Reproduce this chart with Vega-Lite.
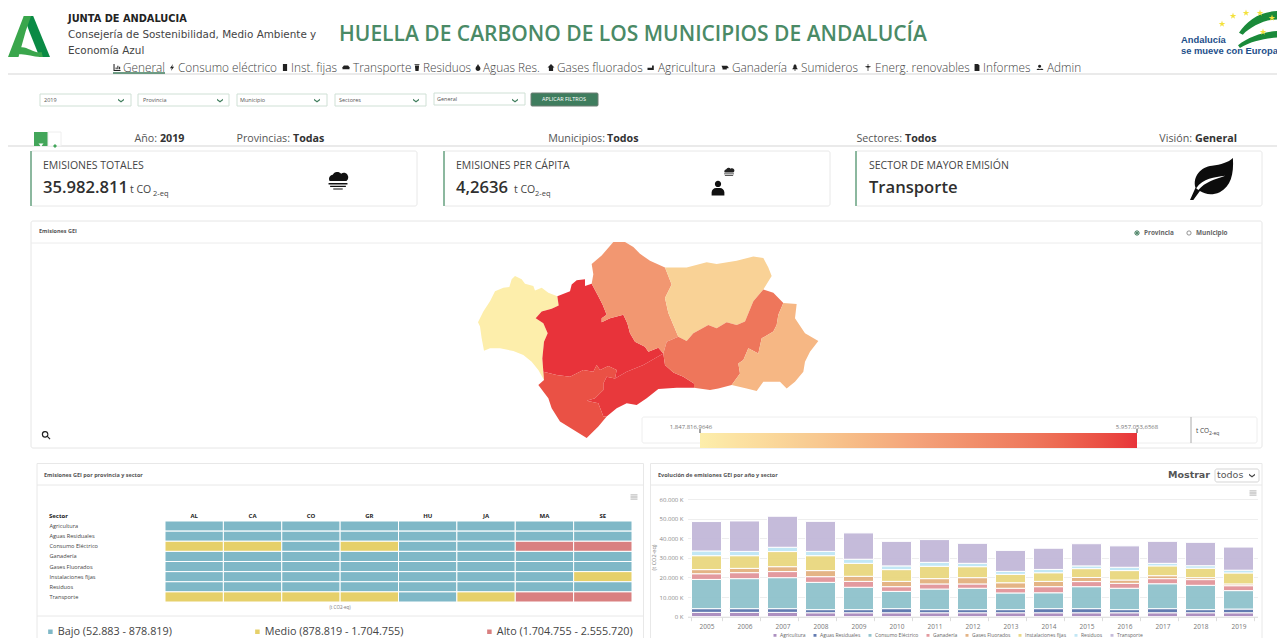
{
"$schema":"https://vega.github.io/schema/vega-lite/v6.json",
"padding":0,
"background":"white",
"bounds":"flush",
"spacing":0,
"resolve":{"scale":{"color":"independent","shape":"independent"},"legend":{"color":"independent"}},
"config":{"view":{"stroke":null},"font":"Open Sans","locale":{"number":{"decimal":",","thousands":".","grouping":[3],"currency":["","€"]}}},
"vconcat":[
{"width":1277,"height":221,
"encoding":{
"x":{"field":"col","type":"quantitative","axis":null,"scale":{"nice":false,"zero":false,"domain":[1,2,3,4,5,6,7,8,9,10,11,12,13,14,15,16,17,18,19,20,21,22,23,24,25,26,27,28,29,30,31,32,33,34,35,36,37,38,39,40,41,42,43,44,45,46,47,48,49,50,51,52,53,54,55,56,57,58,59,60,61,62,63,64,65,66,67,68,69,70,71,72,73,74,75,76,77,78,79,80,81,82,83,84,85,86,87,88,89,90,91,92,93,94,95,96],"range":[8,1277,68,339,123,178,291,353,423,483,557,658,732,801,875,983,1047,117,172,285,346,417,478,551,651,725,795,868,977,1040,113,165,40,131,138,229,237,327,335,426,434,525,531,598,44,143,240,339,437,564,121,220,317,416,515,157,160,290,293,605,607,902,905,1192,1195,34,48,61,31,417,444,830,856,1262,43,456,869,130,153,514,535,338,718,729,1212,29,1181,1258,41,55,1222,1233,1246,1260,1272,1263]}},
"y":{"field":"fil","type":"quantitative","axis":null,"scale":{"nice":false,"zero":false,"domain":[1,2,3,4,5,6,7,8,9,10,11,12,13,14,15,16,17,18,19,20,21,22,23,24,25,26,27,28,29,30,31,32,33,34,35],"range":[74,19,35,51,34.5,67.5,73,94,106,93,105,100,99,139,146,132,139,151,206,166,188,190,180,188,172,179,40,51,37,29,24,16,13,18,32]}}
},
"layer":[
{"data":{"values":[{"col":1,"col2":2,"fil":1},{"col":1,"col2":2,"fil":15}]},"mark":{"type":"rule","color":"#e3e3e3","strokeWidth":1.5},"encoding":{"x2":{"field":"col2"}}},
{"data":{"values":[{"col":31,"col2":32,"fil":7}]},"mark":{"type":"rule","color":"#3f7d5c","strokeWidth":1.5},"encoding":{"x2":{"field":"col2"}}},
{"data":{"values":[{"col":86,"fil":29}]},"mark":{"type":"point","filled":true,"opacity":1,"color":"#0a8a45","size":1764,"shape":"M-.25 -1H.2L1 .95H.5L0 -.3Z"}},
{"data":{"values":[{"col":86,"fil":29}]},"mark":{"type":"point","filled":true,"opacity":1,"color":"#3aa64c","size":1764,"shape":"M-1 .95L-.25 -1H.1L-.15 -.3L-.5 .95Z M-.45 .5C-.1 .4 .2 .8 .6 .72L.66 .95C.2 1 -.2 .75 -.55 .85Z"}},
{"data":{"values":[{"col":3,"fil":2,"texto":"JUNTA DE ANDALUCIA"}]},"mark":{"type":"text","font":"DejaVu Sans","fontWeight":"bold","fontSize":9.8,"align":"left","baseline":"middle","color":"#222"},"encoding":{"text":{"field":"texto"}}},
{"data":{"values":[{"col":3,"fil":3,"texto":"Consejería de Sostenibilidad, Medio Ambiente y"},{"col":3,"fil":4,"texto":"Economía Azul"}]},"mark":{"type":"text","font":"DejaVu Sans","fontSize":10.4,"align":"left","baseline":"middle","color":"#444"},"encoding":{"text":{"field":"texto"}}},
{"data":{"values":[{"col":4,"fil":5,"texto":"HUELLA DE CARBONO DE LOS MUNICIPIOS DE ANDALUCÍA"}]},"mark":{"type":"text","fontWeight":600,"fontSize":21,"align":"left","baseline":"middle","color":"#4a8a66"},"encoding":{"text":{"field":"texto"}}},
{"data":{"values":[{"col":5,"fil":6,"texto":"General"},{"col":6,"fil":6,"texto":"Consumo eléctrico"},{"col":7,"fil":6,"texto":"Inst. fijas"},{"col":8,"fil":6,"texto":"Transporte"},{"col":9,"fil":6,"texto":"Residuos"},{"col":10,"fil":6,"texto":"Aguas Res."},{"col":11,"fil":6,"texto":"Gases fluorados"},{"col":12,"fil":6,"texto":"Agricultura"},{"col":13,"fil":6,"texto":"Ganadería"},{"col":14,"fil":6,"texto":"Sumideros"},{"col":15,"fil":6,"texto":"Energ. renovables"},{"col":16,"fil":6,"texto":"Informes"},{"col":17,"fil":6,"texto":"Admin"}]},"mark":{"type":"text","fontSize":11.8,"fontWeight":300,"align":"left","baseline":"middle","color":"#444"},"encoding":{"text":{"field":"texto"}}},
{"data":{"values":[{"col":18,"fil":6,"icono":"grafico"},{"col":19,"fil":6,"icono":"rayo"},{"col":20,"fil":6,"icono":"edificio"},{"col":21,"fil":6,"icono":"coche"},{"col":22,"fil":6,"icono":"papelera"},{"col":23,"fil":6,"icono":"gota"},{"col":24,"fil":6,"icono":"casa"},{"col":25,"fil":6,"icono":"tractor"},{"col":26,"fil":6,"icono":"vaca"},{"col":27,"fil":6,"icono":"arbol"},{"col":28,"fil":6,"icono":"molino"},{"col":29,"fil":6,"icono":"documento"},{"col":30,"fil":6,"icono":"usuarios"}]},"mark":{"type":"point","filled":true,"opacity":1,"color":"#222","size":49},"encoding":{"shape":{"field":"icono","type":"nominal","legend":null,"scale":{"domain":["grafico","rayo","edificio","coche","papelera","gota","casa","tractor","vaca","arbol","molino","documento","usuarios"],"range":["M-1 -1V1H1V.7H-.7V-1Z M-.4 .5V0H-.1V.5Z M.1 .5V-.5H.4V.5Z M.6 .5V-.2H.9V.5Z","M.3 -1L-.6 .2H-.05L-.3 1L.6 -.2H.05Z","M-.6 -1H.6V1H-.6Z","M-1 .5V-.1L-.6 -.6H.6L1 -.1V.5Z","M-.6 -.6H.6L.45 1H-.45Z M-.7 -.9H.7V-.7H-.7Z","M0 -1C.3 -.4 .7 -.1 .7 .3A.7 .7 0 0 1 -.7 .3C-.7 -.1 -.3 -.4 0 -1Z","M0 -1L1 0H.6V1H-.6V0H-1Z","M-1 .1H.3V-.6H.8V.7H-1Z","M-1 -.5H.6L1 -.1V.2H.5V.6H-.7V.2Z","M0 -1L.6 -.3H.3L.8 .5H.1V1H-.1V.5H-.8L-.3 -.3H-.6Z","M-.1 -1H.1V1H-.1Z M-.9 -.2L0 -.5L.9 -.2L0 .1Z","M-.7 -1H.3L.7 -.6V1H-.7Z","M-1 .7A.6 .6 0 0 1 .1 .7Z M-.1 .7A.6 .6 0 0 1 1 .7Z M-.1 -.8A.45 .45 0 1 1 -.11 -.8Z"]}}}},
{"data":{"values":[{"col":33,"col2":34,"fil":8,"fil2":9},{"col":35,"col2":36,"fil":8,"fil2":9},{"col":37,"col2":38,"fil":8,"fil2":9},{"col":39,"col2":40,"fil":8,"fil2":9},{"col":41,"col2":42,"fil":10,"fil2":11}]},"mark":{"type":"rect","fill":"white","stroke":"#cfe0d5","strokeWidth":1},"encoding":{"x2":{"field":"col2"},"y2":{"field":"fil2"}}},
{"data":{"values":[{"col":43,"col2":44,"fil":10,"fil2":9}]},"mark":{"type":"rect","fill":"#3f7d5e","stroke":"#6f7f75","strokeWidth":1,"cornerRadius":1},"encoding":{"x2":{"field":"col2"},"y2":{"field":"fil2"}}},
{"data":{"values":[{"col":45,"fil":12,"texto":"2019"},{"col":46,"fil":12,"texto":"Provincia"},{"col":47,"fil":12,"texto":"Municipio"},{"col":48,"fil":12,"texto":"Sectores"},{"col":49,"fil":13,"texto":"General"}]},"mark":{"type":"text","fontSize":5.5,"align":"left","baseline":"middle","color":"#555"},"encoding":{"text":{"field":"texto"}}},
{"data":{"values":[{"col":50,"fil":13,"texto":"APLICAR FILTROS"}]},"mark":{"type":"text","fontSize":5.5,"align":"center","baseline":"middle","color":"white"},"encoding":{"text":{"field":"texto"}}},
{"data":{"values":[{"col":51,"fil":12},{"col":52,"fil":12},{"col":53,"fil":12},{"col":54,"fil":12},{"col":55,"fil":12}]},"mark":{"type":"point","filled":true,"opacity":1,"color":"#3f7d5c","size":36,"shape":"M-1 -.4L0 .3L1 -.4V.1L0 .8L-1 .1Z"}},
{"data":{"values":[{"col":66,"col2":67,"fil":16,"fil2":15}]},"mark":{"type":"rect","fill":"#43a65a"},"encoding":{"x2":{"field":"col2"},"y2":{"field":"fil2"}}},
{"data":{"values":[{"col":67,"col2":68,"fil":16,"fil2":15}]},"mark":{"type":"rect","fill":"white","stroke":"#eeeeee"},"encoding":{"x2":{"field":"col2"},"y2":{"field":"fil2"}}},
{"data":{"values":[{"col":89,"fil":15}]},"mark":{"type":"point","filled":true,"opacity":1,"color":"white","size":25,"shape":"M-1 -1H1L.2 0V1L-.2 .6V0Z"}},
{"data":{"values":[{"col":90,"fil":15}]},"mark":{"type":"point","filled":true,"opacity":1,"color":"#43a65a","size":16,"shape":"M-1 0L0 -1L1 0L0 1Z"}},
{"data":{"values":[{"col":56,"fil":14,"texto":"Año:"},{"col":58,"fil":14,"texto":"Provincias:"},{"col":60,"fil":14,"texto":"Municipios:"},{"col":62,"fil":14,"texto":"Sectores:"},{"col":64,"fil":14,"texto":"Visión:"}]},"mark":{"type":"text","fontSize":10.7,"align":"right","baseline":"middle","color":"#555"},"encoding":{"text":{"field":"texto"}}},
{"data":{"values":[{"col":57,"fil":14,"texto":"2019"},{"col":59,"fil":14,"texto":"Todas"},{"col":61,"fil":14,"texto":"Todos"},{"col":63,"fil":14,"texto":"Todos"},{"col":65,"fil":14,"texto":"General"}]},"mark":{"type":"text","fontSize":10.7,"fontWeight":"bold","align":"left","baseline":"middle","color":"#333"},"encoding":{"text":{"field":"texto"}}},
{"data":{"values":[{"col":69,"col2":70,"fil":18,"fil2":19},{"col":71,"col2":72,"fil":18,"fil2":19},{"col":73,"col2":74,"fil":18,"fil2":19}]},"mark":{"type":"rect","fill":"white","stroke":"#e8e8e8","cornerRadius":2},"encoding":{"x2":{"field":"col2"},"y2":{"field":"fil2"}}},
{"data":{"values":[{"col":69,"fil":18,"fil2":19},{"col":71,"fil":18,"fil2":19},{"col":73,"fil":18,"fil2":19}]},"mark":{"type":"rule","color":"#6aa583","strokeWidth":1.5},"encoding":{"y2":{"field":"fil2"}}},
{"data":{"values":[{"col":75,"fil":20,"texto":"EMISIONES TOTALES"},{"col":76,"fil":20,"texto":"EMISIONES PER CÁPITA"},{"col":77,"fil":20,"texto":"SECTOR DE MAYOR EMISIÓN"}]},"mark":{"type":"text","fontSize":10.5,"align":"left","baseline":"middle","color":"#444"},"encoding":{"text":{"field":"texto"}}},
{"data":{"values":[{"col":75,"fil":21,"texto":"35.982.811"},{"col":76,"fil":21,"texto":"4,2636"},{"col":77,"fil":21,"texto":"Transporte"}]},"mark":{"type":"text","fontSize":16.6,"fontWeight":600,"align":"left","baseline":"middle","color":"#2f2f2f"},"encoding":{"text":{"field":"texto"}}},
{"data":{"values":[{"col":78,"fil":21,"texto":"t CO"},{"col":80,"fil":21,"texto":"t CO"}]},"mark":{"type":"text","fontSize":10.5,"align":"left","baseline":"middle","dy":2,"color":"#444"},"encoding":{"text":{"field":"texto"}}},
{"data":{"values":[{"col":79,"fil":22,"texto":"2-eq"},{"col":81,"fil":22,"texto":"2-eq"}]},"mark":{"type":"text","fontSize":7.5,"align":"left","baseline":"top","color":"#444"},"encoding":{"text":{"field":"texto"}}},
{"data":{"values":[{"col":82,"fil":23}]},"mark":{"type":"point","filled":true,"opacity":1,"color":"#111","size":441,"shape":"M-.8 .1A.4 .4 0 0 1 -.5 -.5A.5 .5 0 0 1 .3 -.6A.4 .4 0 0 1 .8 .1Z M-.9 .28H.9V.42H-.9Z M-.75 .55H.75V.66H-.75Z M-.45 .8H.45V.9H-.45Z"}},
{"data":{"values":[{"col":84,"fil":25}]},"mark":{"type":"point","filled":true,"opacity":1,"color":"#222","size":121,"shape":"M-.8 .1A.4 .4 0 0 1 -.5 -.5A.5 .5 0 0 1 .3 -.6A.4 .4 0 0 1 .8 .1Z M-.9 .28H.9V.42H-.9Z M-.75 .55H.75V.66H-.75Z"}},
{"data":{"values":[{"col":83,"fil":24}]},"mark":{"type":"point","filled":true,"opacity":1,"color":"#111","size":225,"shape":"M-.42 -.55A.42 .42 0 1 1 .42 -.55A.42 .42 0 1 1 -.42 -.55Z M-.85 1V.55A.6 .6 0 0 1 -.25 .0H.25A.6 .6 0 0 1 .85 .55V1Z"}},
{"data":{"values":[{"col":85,"fil":26}]},"mark":{"type":"point","filled":true,"opacity":1,"color":"#0c0c0c","size":1936,"shape":"M.95 -.95C1 -.2 .85 .35 .35 .6C0 .75 -.3 .7 -.55 .55L-.85 .95H-1L-.75 .4C-.9 -.1 -.5 -.55 0 -.6C.4 -.65 .75 -.75 .95 -.95Z"}},
{"data":{"values":[{"col":85,"fil":26}]},"mark":{"type":"point","filled":true,"opacity":1,"color":"white","size":1936,"shape":"M-.72 .42C-.4 -.05 .1 -.08 .6 -.15C.1 .03 -.3 .12 -.62 .5Z"}},
{"data":{"values":[{"col":87,"fil":27,"texto":"Andalucía"},{"col":87,"fil":28,"texto":"se mueve con Europa"}]},"mark":{"type":"text","font":"Liberation Sans","fontWeight":"bold","fontSize":9.4,"align":"left","baseline":"middle","color":"#1d4f8a"},"encoding":{"text":{"field":"texto"}}},
{"data":{"values":[{"col":88,"fil":30}]},"mark":{"type":"point","filled":true,"opacity":1,"color":"#1a8a3a","size":1444,"shape":"M-1 .2C-.6 -.4 0 -.9 1 -.95V-.5C.3 -.5 -.4 -.1 -.8 .3Z M-1.05 .85C-.5 .4 .3 .15 1 .1V.45C.4 .5 -.4 .65 -.95 1Z"}},
{"data":{"values":[{"col":91,"fil":31},{"col":92,"fil":32},{"col":93,"fil":33},{"col":94,"fil":33},{"col":95,"fil":34},{"col":96,"fil":35}]},"mark":{"type":"point","filled":true,"opacity":1,"color":"#f3e13c","size":49,"shape":"M0 -1L.22 -.31H.95L.36 .12L.59 .81L0 .38L-.59 .81L-.36 .12L-.95 -.31H-.22Z"}}
]},
{"width":1277,"height":242,
"resolve":{"scale":{"x":"independent","y":"independent"}},
"layer":[
{"encoding":{
"x":{"field":"col","type":"quantitative","axis":null,"scale":{"nice":false,"zero":false,"domain":[1,2,3,4,5,6,7,8,9,10,11,12,13,14,15],"range":[31,1262,39,1137,1144,1189,1196,46,642,1257,1191,1196,1205,700,1137]}},
"y":{"field":"fil","type":"quantitative","axis":null,"scale":{"nice":false,"zero":false,"domain":[1,2,3,4,5,6,7,8,9,10,11,12],"range":[0,227,22,10,12,214,196,222,210,212,208,212]}}},
"layer":[
{"data":{"values":[{"col":1,"col2":2,"fil":1,"fil2":2}]},"mark":{"type":"rect","fill":"white","stroke":"#e6e6e6","cornerRadius":2},"encoding":{"x2":{"field":"col2"},"y2":{"field":"fil2"}}},
{"data":{"values":[{"col":1,"col2":2,"fil":3}]},"mark":{"type":"rule","color":"#ececec"},"encoding":{"x2":{"field":"col2"}}},
{"data":{"values":[{"col":3,"fil":4,"texto":"Emisiones GEI"}]},"mark":{"type":"text","fontSize":5.5,"fontWeight":"bold","align":"left","baseline":"middle","color":"#555"},"encoding":{"text":{"field":"texto"}}},
{"data":{"values":[{"col":5,"fil":5,"texto":"Provincia"},{"col":7,"fil":5,"texto":"Municipio"}]},"mark":{"type":"text","fontSize":6.4,"fontWeight":"bold","align":"left","baseline":"middle","color":"#666"},"encoding":{"text":{"field":"texto"}}},
{"data":{"values":[{"col":4,"fil":5}]},"mark":{"type":"point","filled":false,"opacity":1,"color":"#2f6f4e","size":18,"strokeWidth":1}},
{"data":{"values":[{"col":4,"fil":5}]},"mark":{"type":"point","filled":true,"opacity":1,"color":"#2f6f4e","size":5}},
{"data":{"values":[{"col":6,"fil":5}]},"mark":{"type":"point","filled":false,"opacity":1,"color":"#777","size":18,"strokeWidth":0.8}},
{"data":{"values":[{"col":8,"fil":6}]},"mark":{"type":"point","filled":false,"opacity":1,"color":"#222","size":81,"strokeWidth":1.2,"shape":"M.4 -.2A.6 .6 0 1 1 .399 -.21M.25 .25L.9 .9"}},
{"data":{"values":[{"col":9,"col2":10,"fil":7,"fil2":8}]},"mark":{"type":"rect","fill":"white","stroke":"#eeeeee","cornerRadius":2},"encoding":{"x2":{"field":"col2"},"y2":{"field":"fil2"}}},
{"data":{"values":[{"col":11,"fil":7,"fil2":8}]},"mark":{"type":"rule","color":"#aaaaaa"},"encoding":{"y2":{"field":"fil2"}}},
{"data":{"values":[{"col":14,"fil":11,"fil2":12},{"col":15,"fil":11,"fil2":12}]},"mark":{"type":"rule","color":"#444444"},"encoding":{"y2":{"field":"fil2"}}},
{"data":{"values":[{"col":12,"fil":9,"texto":"t CO"}]},"mark":{"type":"text","fontSize":6.5,"align":"left","baseline":"middle","color":"#444"},"encoding":{"text":{"field":"texto"}}},
{"data":{"values":[{"col":13,"fil":10,"texto":"2-eq"}]},"mark":{"type":"text","fontSize":5,"align":"left","baseline":"middle","dx":4,"color":"#444"},"encoding":{"text":{"field":"texto"}}}
]},
{"data":{"values":[
{"type":"Feature","properties":{"provincia":"Huelva","emisiones":1847816.9646},"geometry":{"type":"Polygon","coordinates":[[[-6.79,38.2],[-6.67,38.152],[-6.61,38.09],[-6.46,38.056],[-6.43,37.994],[-6.31,38.032],[-6.19,37.96],[-6.028,37.912],[-6.004,37.782],[-6.13,37.734],[-6.31,37.696],[-6.418,37.6],[-6.28,37.528],[-6.202,37.384],[-6.268,37.264],[-6.298,37.024],[-6.28,36.832],[-6.268,36.712],[-6.37,36.856],[-6.49,36.976],[-6.64,37.072],[-6.82,37.13],[-7.06,37.168],[-7.24,37.168],[-7.348,37.134],[-7.39,37.312],[-7.42,37.48],[-7.456,37.542],[-7.36,37.696],[-7.24,37.84],[-7.15,37.984],[-7.0,38.032],[-6.892,38.042],[-6.85,38.152],[-6.79,38.2]]]}},
{"type":"Feature","properties":{"provincia":"Sevilla","emisiones":5957053.6568},"geometry":{"type":"Polygon","coordinates":[[[-6.028,37.912],[-5.8,37.984],[-5.77,38.08],[-5.68,38.138],[-5.53,38.152],[-5.53,38.056],[-5.41,38.09],[-5.29,37.912],[-5.212,37.792],[-5.14,37.648],[-5.23,37.6],[-5.23,37.542],[-5.08,37.6],[-4.84,37.648],[-4.768,37.528],[-4.72,37.384],[-4.63,37.264],[-4.45,37.192],[-4.39,37.12],[-4.21,37.178],[-4.12,37.096],[-4.48,36.928],[-4.78,36.832],[-4.99,36.736],[-4.96,36.856],[-5.11,36.914],[-5.26,36.856],[-5.32,36.928],[-5.38,36.832],[-5.56,36.856],[-5.8,36.76],[-6.04,36.784],[-6.28,36.832],[-6.298,37.024],[-6.268,37.264],[-6.202,37.384],[-6.28,37.528],[-6.418,37.6],[-6.31,37.696],[-6.13,37.734],[-6.004,37.782],[-6.028,37.912]]]}},
{"type":"Feature","properties":{"provincia":"Málaga","emisiones":5900000},"geometry":{"type":"Polygon","coordinates":[[[-4.99,36.736],[-4.78,36.832],[-4.48,36.928],[-4.12,37.096],[-4.09,36.928],[-3.94,36.822],[-3.76,36.76],[-3.568,36.664],[-3.568,36.602],[-3.88,36.602],[-4.21,36.582],[-4.42,36.448],[-4.6,36.352],[-4.78,36.376],[-4.96,36.304],[-5.14,36.184],[-5.2,36.184],[-5.29,36.376],[-5.5,36.414],[-5.35,36.448],[-5.2,36.568],[-5.2,36.664],[-5.14,36.76],[-4.99,36.736]]]}},
{"type":"Feature","properties":{"provincia":"Cádiz","emisiones":5600000},"geometry":{"type":"Polygon","coordinates":[[[-6.28,36.832],[-6.04,36.784],[-5.8,36.76],[-5.56,36.856],[-5.38,36.832],[-5.32,36.928],[-5.26,36.856],[-5.11,36.914],[-4.96,36.856],[-4.99,36.736],[-5.14,36.76],[-5.2,36.664],[-5.2,36.568],[-5.35,36.448],[-5.5,36.414],[-5.29,36.376],[-5.2,36.184],[-5.14,36.184],[-5.29,36.04],[-5.5,35.872],[-5.74,35.992],[-5.98,36.112],[-6.13,36.304],[-6.19,36.448],[-6.37,36.64],[-6.268,36.712],[-6.28,36.832]]]}},
{"type":"Feature","properties":{"provincia":"Córdoba","emisiones":4200000},"geometry":{"type":"Polygon","coordinates":[[[-5.41,38.09],[-5.38,38.224],[-5.41,38.368],[-5.23,38.488],[-5.02,38.68],[-4.81,38.68],[-4.66,38.608],[-4.54,38.512],[-4.36,38.416],[-4.09,38.32],[-3.97,38.08],[-4.09,37.888],[-4.03,37.672],[-3.85,37.336],[-4.06,37.264],[-4.12,37.096],[-4.21,37.178],[-4.39,37.12],[-4.45,37.192],[-4.63,37.264],[-4.72,37.384],[-4.768,37.528],[-4.84,37.648],[-5.08,37.6],[-5.23,37.542],[-5.23,37.6],[-5.14,37.648],[-5.212,37.792],[-5.29,37.912],[-5.41,38.09]]]}},
{"type":"Feature","properties":{"provincia":"Jaén","emisiones":2700000},"geometry":{"type":"Polygon","coordinates":[[[-4.09,38.32],[-3.7,38.32],[-3.34,38.392],[-3.16,38.368],[-2.8,38.416],[-2.5,38.474],[-2.32,38.454],[-2.23,38.32],[-2.17,38.2],[-2.32,38.008],[-2.5,37.84],[-2.65,37.552],[-2.8,37.504],[-2.98,37.542],[-3.16,37.456],[-3.31,37.504],[-3.58,37.384],[-3.7,37.274],[-3.85,37.336],[-4.03,37.672],[-4.09,37.888],[-3.97,38.08],[-4.09,38.32]]]}},
{"type":"Feature","properties":{"provincia":"Granada","emisiones":5000000},"geometry":{"type":"Polygon","coordinates":[[[-2.32,38.008],[-2.14,37.96],[-1.96,37.816],[-2.05,37.648],[-2.08,37.504],[-2.14,37.408],[-2.35,37.312],[-2.41,37.096],[-2.59,37.168],[-2.68,37.0],[-2.77,36.952],[-2.74,36.808],[-2.89,36.64],[-3.13,36.592],[-3.28,36.568],[-3.568,36.602],[-3.568,36.664],[-3.76,36.76],[-3.94,36.822],[-4.09,36.928],[-4.12,37.096],[-4.06,37.264],[-3.85,37.336],[-3.7,37.274],[-3.58,37.384],[-3.31,37.504],[-3.16,37.456],[-2.98,37.542],[-2.8,37.504],[-2.65,37.552],[-2.5,37.84],[-2.32,38.008]]]}},
{"type":"Feature","properties":{"provincia":"Almería","emisiones":3400000},"geometry":{"type":"Polygon","coordinates":[[[-1.96,37.816],[-1.72,37.802],[-1.75,37.6],[-1.57,37.384],[-1.33,37.274],[-1.48,37.12],[-1.57,36.976],[-1.6,36.832],[-1.75,36.688],[-1.9,36.592],[-2.02,36.688],[-2.32,36.688],[-2.44,36.554],[-2.62,36.592],[-2.89,36.64],[-2.74,36.808],[-2.77,36.952],[-2.68,37.0],[-2.59,37.168],[-2.41,37.096],[-2.35,37.312],[-2.14,37.408],[-2.08,37.504],[-2.05,37.648],[-1.96,37.816]]]}}
]},
"projection":{"type":"mercator","center":[-4.45,37.288],"translate":[645,119],"scale":3183},
"mark":{"type":"geoshape","strokeWidth":0},
"encoding":{"color":{"field":"properties.emisiones","type":"quantitative","scale":{"domain":[1847816.9646,2875126,3902435,4929744,5957053.6568],"range":["#fdeeab","#f8cc93","#f4a27a","#ee7a5e","#e8333a"]},"legend":{"orient":"none","legendX":700,"legendY":212,"direction":"horizontal","title":null,"gradientLength":437,"gradientThickness":15,"values":[1847816.9646,5957053.6568],"format":",.4f","labelFontSize":6,"labelColor":"#777","labelOffset":-24,"padding":0,"labelOverlap":false,"encode":{"labels":{"update":{"align":{"value":"center"},"dx":{"signal":"datum.perc<=0?-9:0"}}}}}}}}
]},
{"spacing":0,"bounds":"flush",
"resolve":{"scale":{"color":"independent"},"legend":{"color":"independent"}},
"hconcat":[
{"width":644,"height":175,
"resolve":{"scale":{"x":"independent","y":"independent"}},
"layer":[
{"encoding":{
"x":{"field":"col","type":"quantitative","axis":null,"scale":{"nice":false,"zero":false,"domain":[1,2,3,4,5,6],"range":[37,643.5,44,634,49,340]}},
"y":{"field":"fil","type":"quantitative","axis":null,"scale":{"nice":false,"zero":false,"domain":[1,2,3,4,5,6,7,8],"range":[0.5,22,153,175,12,34,53,145]}}},
"layer":[
{"data":{"values":[{"col":1,"col2":2,"fil":1,"fil2":1},{"col":1,"col2":2,"fil":2,"fil2":2},{"col":1,"col2":2,"fil":3,"fil2":3},{"col":1,"col2":1,"fil":1,"fil2":4},{"col":2,"col2":2,"fil":1,"fil2":4}]},"mark":{"type":"rule","color":"#e8e8e8"},"encoding":{"x2":{"field":"col2"},"y2":{"field":"fil2"}}},
{"data":{"values":[{"col":3,"fil":5,"texto":"Emisiones GEI por provincia y sector"}]},"mark":{"type":"text","fontSize":5.5,"fontWeight":"bold","align":"left","baseline":"middle","color":"#555"},"encoding":{"text":{"field":"texto"}}},
{"data":{"values":[{"col":5,"fil":7,"texto":"Sector"}]},"mark":{"type":"text","fontSize":6,"fontWeight":"bold","align":"left","baseline":"middle","color":"#222"},"encoding":{"text":{"field":"texto"}}},
{"data":{"values":[{"col":6,"fil":8,"texto":"(t CO2-eq)"}]},"mark":{"type":"text","fontSize":4.5,"align":"center","baseline":"middle","color":"#777"},"encoding":{"text":{"field":"texto"}}},
{"data":{"values":[{"col":4,"fil":6}]},"mark":{"type":"point","filled":true,"opacity":1,"color":"#c4c4c4","size":49,"shape":"M-1 -.8H1V-.4H-1Z M-1 -.2H1V.2H-1Z M-1 .4H1V.8H-1Z"}}
]},
{"data":{"values":[
{"provincia":"AL","sector":"Agricultura","nivel":"Bajo"},{"provincia":"CA","sector":"Agricultura","nivel":"Bajo"},{"provincia":"CO","sector":"Agricultura","nivel":"Bajo"},{"provincia":"GR","sector":"Agricultura","nivel":"Bajo"},{"provincia":"HU","sector":"Agricultura","nivel":"Bajo"},{"provincia":"JA","sector":"Agricultura","nivel":"Bajo"},{"provincia":"MA","sector":"Agricultura","nivel":"Bajo"},{"provincia":"SE","sector":"Agricultura","nivel":"Bajo"},
{"provincia":"AL","sector":"Aguas Residuales","nivel":"Bajo"},{"provincia":"CA","sector":"Aguas Residuales","nivel":"Bajo"},{"provincia":"CO","sector":"Aguas Residuales","nivel":"Bajo"},{"provincia":"GR","sector":"Aguas Residuales","nivel":"Bajo"},{"provincia":"HU","sector":"Aguas Residuales","nivel":"Bajo"},{"provincia":"JA","sector":"Aguas Residuales","nivel":"Bajo"},{"provincia":"MA","sector":"Aguas Residuales","nivel":"Bajo"},{"provincia":"SE","sector":"Aguas Residuales","nivel":"Bajo"},
{"provincia":"AL","sector":"Consumo Eléctrico","nivel":"Medio"},{"provincia":"CA","sector":"Consumo Eléctrico","nivel":"Medio"},{"provincia":"CO","sector":"Consumo Eléctrico","nivel":"Bajo"},{"provincia":"GR","sector":"Consumo Eléctrico","nivel":"Medio"},{"provincia":"HU","sector":"Consumo Eléctrico","nivel":"Bajo"},{"provincia":"JA","sector":"Consumo Eléctrico","nivel":"Bajo"},{"provincia":"MA","sector":"Consumo Eléctrico","nivel":"Alto"},{"provincia":"SE","sector":"Consumo Eléctrico","nivel":"Alto"},
{"provincia":"AL","sector":"Ganadería","nivel":"Bajo"},{"provincia":"CA","sector":"Ganadería","nivel":"Bajo"},{"provincia":"CO","sector":"Ganadería","nivel":"Bajo"},{"provincia":"GR","sector":"Ganadería","nivel":"Bajo"},{"provincia":"HU","sector":"Ganadería","nivel":"Bajo"},{"provincia":"JA","sector":"Ganadería","nivel":"Bajo"},{"provincia":"MA","sector":"Ganadería","nivel":"Bajo"},{"provincia":"SE","sector":"Ganadería","nivel":"Bajo"},
{"provincia":"AL","sector":"Gases Fluorados","nivel":"Bajo"},{"provincia":"CA","sector":"Gases Fluorados","nivel":"Bajo"},{"provincia":"CO","sector":"Gases Fluorados","nivel":"Bajo"},{"provincia":"GR","sector":"Gases Fluorados","nivel":"Bajo"},{"provincia":"HU","sector":"Gases Fluorados","nivel":"Bajo"},{"provincia":"JA","sector":"Gases Fluorados","nivel":"Bajo"},{"provincia":"MA","sector":"Gases Fluorados","nivel":"Bajo"},{"provincia":"SE","sector":"Gases Fluorados","nivel":"Bajo"},
{"provincia":"AL","sector":"Instalaciones fijas","nivel":"Bajo"},{"provincia":"CA","sector":"Instalaciones fijas","nivel":"Bajo"},{"provincia":"CO","sector":"Instalaciones fijas","nivel":"Bajo"},{"provincia":"GR","sector":"Instalaciones fijas","nivel":"Bajo"},{"provincia":"HU","sector":"Instalaciones fijas","nivel":"Bajo"},{"provincia":"JA","sector":"Instalaciones fijas","nivel":"Bajo"},{"provincia":"MA","sector":"Instalaciones fijas","nivel":"Bajo"},{"provincia":"SE","sector":"Instalaciones fijas","nivel":"Medio"},
{"provincia":"AL","sector":"Residuos","nivel":"Bajo"},{"provincia":"CA","sector":"Residuos","nivel":"Bajo"},{"provincia":"CO","sector":"Residuos","nivel":"Bajo"},{"provincia":"GR","sector":"Residuos","nivel":"Bajo"},{"provincia":"HU","sector":"Residuos","nivel":"Bajo"},{"provincia":"JA","sector":"Residuos","nivel":"Bajo"},{"provincia":"MA","sector":"Residuos","nivel":"Bajo"},{"provincia":"SE","sector":"Residuos","nivel":"Bajo"},
{"provincia":"AL","sector":"Transporte","nivel":"Medio"},{"provincia":"CA","sector":"Transporte","nivel":"Medio"},{"provincia":"CO","sector":"Transporte","nivel":"Medio"},{"provincia":"GR","sector":"Transporte","nivel":"Medio"},{"provincia":"HU","sector":"Transporte","nivel":"Bajo"},{"provincia":"JA","sector":"Transporte","nivel":"Medio"},{"provincia":"MA","sector":"Transporte","nivel":"Alto"},{"provincia":"SE","sector":"Transporte","nivel":"Alto"}
]},
"mark":{"type":"rect","stroke":"white","strokeWidth":1},
"encoding":{
"x":{"field":"provincia","type":"nominal","scale":{"range":[165,632]},"axis":{"orient":"top","title":null,"offset":-55,"domain":false,"ticks":false,"labelAngle":0,"labelFontSize":6,"labelFontWeight":"bold","labelColor":"#222","labelPadding":0}},
"y":{"field":"sector","type":"nominal","scale":{"range":[58,139]},"axis":{"orient":"left","title":null,"offset":-49,"domain":false,"ticks":false,"labelAlign":"left","labelFontSize":5.6,"labelColor":"#444","labelPadding":0}},
"color":{"field":"nivel","type":"nominal","scale":{"domain":["Bajo","Medio","Alto"],"range":["#7fb8c7","#e6d06a","#d98080"]},"legend":{"orient":"none","legendX":45,"legendY":163,"direction":"horizontal","columns":3,"title":null,"symbolType":"square","symbolSize":36,"labelFontSize":10.8,"labelOffset":2,"labelColor":"#444","columnPadding":79,"gridAlign":"each","padding":0,"labelExpr":"{'Bajo':'Bajo (52.883 - 878.819)','Medio':'Medio (878.819 - 1.704.755)','Alto':'Alto (1.704.755 - 2.555.720)'}[datum.label]"}}
}}
]},
{"width":633,"height":175,
"resolve":{"scale":{"x":"independent","y":"independent"}},
"layer":[
{"encoding":{
"x":{"field":"col","type":"quantitative","axis":null,"scale":{"nice":false,"zero":false,"domain":[1,2,3,4,5,6,7,8],"range":[6.5,618,14,524,571,615,609,608]}},
"y":{"field":"fil","type":"quantitative","axis":null,"scale":{"nice":false,"zero":false,"domain":[1,2,3,4,5,6,7],"range":[0.5,22,175,12,6,19,30]}}},
"layer":[
{"data":{"values":[{"col":1,"col2":2,"fil":1,"fil2":1},{"col":1,"col2":2,"fil":2,"fil2":2},{"col":1,"col2":1,"fil":1,"fil2":3},{"col":2,"col2":2,"fil":1,"fil2":3}]},"mark":{"type":"rule","color":"#e8e8e8"},"encoding":{"x2":{"field":"col2"},"y2":{"field":"fil2"}}},
{"data":{"values":[{"col":3,"fil":4,"texto":"Evolución de emisiones GEI por año y sector"}]},"mark":{"type":"text","fontSize":5.5,"fontWeight":"bold","align":"left","baseline":"middle","color":"#555"},"encoding":{"text":{"field":"texto"}}},
{"data":{"values":[{"col":4,"fil":4,"texto":"Mostrar"}]},"mark":{"type":"text","font":"DejaVu Sans","fontSize":9.5,"fontWeight":"bold","align":"left","baseline":"middle","color":"#555"},"encoding":{"text":{"field":"texto"}}},
{"data":{"values":[{"col":5,"col2":6,"fil":5,"fil2":6}]},"mark":{"type":"rect","fill":"white","stroke":"#d5d5d5","cornerRadius":2},"encoding":{"x2":{"field":"col2"},"y2":{"field":"fil2"}}},
{"data":{"values":[{"col":5,"fil":4,"texto":"todos"}]},"mark":{"type":"text","font":"DejaVu Sans","fontSize":9.5,"align":"left","baseline":"middle","dx":2,"color":"#555"},"encoding":{"text":{"field":"texto"}}},
{"data":{"values":[{"col":8,"fil":4}]},"mark":{"type":"point","filled":true,"opacity":1,"color":"#444","size":36,"shape":"M-1 -.4L0 .3L1 -.4V.1L0 .8L-1 .1Z"}},
{"data":{"values":[{"col":7,"fil":7}]},"mark":{"type":"point","filled":true,"opacity":1,"color":"#c4c4c4","size":49,"shape":"M-1 -.8H1V-.4H-1Z M-1 -.2H1V.2H-1Z M-1 .4H1V.8H-1Z"}}
]},
{"data":{"values":[
{"anio":"2005","sector":"Agricultura","orden":1,"kt":2200},{"anio":"2005","sector":"Aguas Residuales","orden":2,"kt":1900},{"anio":"2005","sector":"Consumo Eléctrico","orden":3,"kt":14900},{"anio":"2005","sector":"Ganadería","orden":4,"kt":2900},{"anio":"2005","sector":"Gases Fluorados","orden":5,"kt":2100},{"anio":"2005","sector":"Instalaciones fijas","orden":6,"kt":7100},{"anio":"2005","sector":"Residuos","orden":7,"kt":2400},{"anio":"2005","sector":"Transporte","orden":8,"kt":15000},
{"anio":"2006","sector":"Agricultura","orden":1,"kt":2200},{"anio":"2006","sector":"Aguas Residuales","orden":2,"kt":1900},{"anio":"2006","sector":"Consumo Eléctrico","orden":3,"kt":15300},{"anio":"2006","sector":"Ganadería","orden":4,"kt":3050},{"anio":"2006","sector":"Gases Fluorados","orden":5,"kt":2200},{"anio":"2006","sector":"Instalaciones fijas","orden":6,"kt":6450},{"anio":"2006","sector":"Residuos","orden":7,"kt":2200},{"anio":"2006","sector":"Transporte","orden":8,"kt":15500},
{"anio":"2007","sector":"Agricultura","orden":1,"kt":2200},{"anio":"2007","sector":"Aguas Residuales","orden":2,"kt":1900},{"anio":"2007","sector":"Consumo Eléctrico","orden":3,"kt":15800},{"anio":"2007","sector":"Ganadería","orden":4,"kt":3100},{"anio":"2007","sector":"Gases Fluorados","orden":5,"kt":2500},{"anio":"2007","sector":"Instalaciones fijas","orden":6,"kt":7700},{"anio":"2007","sector":"Residuos","orden":7,"kt":2200},{"anio":"2007","sector":"Transporte","orden":8,"kt":15800},
{"anio":"2008","sector":"Agricultura","orden":1,"kt":2000},{"anio":"2008","sector":"Aguas Residuales","orden":2,"kt":1600},{"anio":"2008","sector":"Consumo Eléctrico","orden":3,"kt":13900},{"anio":"2008","sector":"Ganadería","orden":4,"kt":2900},{"anio":"2008","sector":"Gases Fluorados","orden":5,"kt":3100},{"anio":"2008","sector":"Instalaciones fijas","orden":6,"kt":7600},{"anio":"2008","sector":"Residuos","orden":7,"kt":2200},{"anio":"2008","sector":"Transporte","orden":8,"kt":15300},
{"anio":"2009","sector":"Agricultura","orden":1,"kt":2000},{"anio":"2009","sector":"Aguas Residuales","orden":2,"kt":1600},{"anio":"2009","sector":"Consumo Eléctrico","orden":3,"kt":11400},{"anio":"2009","sector":"Ganadería","orden":4,"kt":3000},{"anio":"2009","sector":"Gases Fluorados","orden":5,"kt":2600},{"anio":"2009","sector":"Instalaciones fijas","orden":6,"kt":6600},{"anio":"2009","sector":"Residuos","orden":7,"kt":2100},{"anio":"2009","sector":"Transporte","orden":8,"kt":13400},
{"anio":"2010","sector":"Agricultura","orden":1,"kt":2000},{"anio":"2010","sector":"Aguas Residuales","orden":2,"kt":2100},{"anio":"2010","sector":"Consumo Eléctrico","orden":3,"kt":8800},{"anio":"2010","sector":"Ganadería","orden":4,"kt":2400},{"anio":"2010","sector":"Gases Fluorados","orden":5,"kt":2700},{"anio":"2010","sector":"Instalaciones fijas","orden":6,"kt":6000},{"anio":"2010","sector":"Residuos","orden":7,"kt":1900},{"anio":"2010","sector":"Transporte","orden":8,"kt":12500},
{"anio":"2011","sector":"Agricultura","orden":1,"kt":2000},{"anio":"2011","sector":"Aguas Residuales","orden":2,"kt":1600},{"anio":"2011","sector":"Consumo Eléctrico","orden":3,"kt":10500},{"anio":"2011","sector":"Ganadería","orden":4,"kt":2600},{"anio":"2011","sector":"Gases Fluorados","orden":5,"kt":2700},{"anio":"2011","sector":"Instalaciones fijas","orden":6,"kt":6300},{"anio":"2011","sector":"Residuos","orden":7,"kt":2000},{"anio":"2011","sector":"Transporte","orden":8,"kt":11600},
{"anio":"2012","sector":"Agricultura","orden":1,"kt":2000},{"anio":"2012","sector":"Aguas Residuales","orden":2,"kt":1600},{"anio":"2012","sector":"Consumo Eléctrico","orden":3,"kt":10900},{"anio":"2012","sector":"Ganadería","orden":4,"kt":2200},{"anio":"2012","sector":"Gases Fluorados","orden":5,"kt":3200},{"anio":"2012","sector":"Instalaciones fijas","orden":6,"kt":5600},{"anio":"2012","sector":"Residuos","orden":7,"kt":1700},{"anio":"2012","sector":"Transporte","orden":8,"kt":10200},
{"anio":"2013","sector":"Agricultura","orden":1,"kt":2000},{"anio":"2013","sector":"Aguas Residuales","orden":2,"kt":1600},{"anio":"2013","sector":"Consumo Eléctrico","orden":3,"kt":8500},{"anio":"2013","sector":"Ganadería","orden":4,"kt":2400},{"anio":"2013","sector":"Gases Fluorados","orden":5,"kt":2800},{"anio":"2013","sector":"Instalaciones fijas","orden":6,"kt":4300},{"anio":"2013","sector":"Residuos","orden":7,"kt":1500},{"anio":"2013","sector":"Transporte","orden":8,"kt":10700},
{"anio":"2014","sector":"Agricultura","orden":1,"kt":2000},{"anio":"2014","sector":"Aguas Residuales","orden":2,"kt":2100},{"anio":"2014","sector":"Consumo Eléctrico","orden":3,"kt":8100},{"anio":"2014","sector":"Ganadería","orden":4,"kt":3100},{"anio":"2014","sector":"Gases Fluorados","orden":5,"kt":2700},{"anio":"2014","sector":"Instalaciones fijas","orden":6,"kt":4400},{"anio":"2014","sector":"Residuos","orden":7,"kt":1700},{"anio":"2014","sector":"Transporte","orden":8,"kt":10800},
{"anio":"2015","sector":"Agricultura","orden":1,"kt":2000},{"anio":"2015","sector":"Aguas Residuales","orden":2,"kt":2100},{"anio":"2015","sector":"Consumo Eléctrico","orden":3,"kt":11200},{"anio":"2015","sector":"Ganadería","orden":4,"kt":2600},{"anio":"2015","sector":"Gases Fluorados","orden":5,"kt":2100},{"anio":"2015","sector":"Instalaciones fijas","orden":6,"kt":4500},{"anio":"2015","sector":"Residuos","orden":7,"kt":1400},{"anio":"2015","sector":"Transporte","orden":8,"kt":11300},
{"anio":"2016","sector":"Agricultura","orden":1,"kt":2000},{"anio":"2016","sector":"Aguas Residuales","orden":2,"kt":1600},{"anio":"2016","sector":"Consumo Eléctrico","orden":3,"kt":10900},{"anio":"2016","sector":"Ganadería","orden":4,"kt":2500},{"anio":"2016","sector":"Gases Fluorados","orden":5,"kt":1700},{"anio":"2016","sector":"Instalaciones fijas","orden":6,"kt":4800},{"anio":"2016","sector":"Residuos","orden":7,"kt":1700},{"anio":"2016","sector":"Transporte","orden":8,"kt":10900},
{"anio":"2017","sector":"Agricultura","orden":1,"kt":2000},{"anio":"2017","sector":"Aguas Residuales","orden":2,"kt":2100},{"anio":"2017","sector":"Consumo Eléctrico","orden":3,"kt":12700},{"anio":"2017","sector":"Ganadería","orden":4,"kt":2600},{"anio":"2017","sector":"Gases Fluorados","orden":5,"kt":1500},{"anio":"2017","sector":"Instalaciones fijas","orden":6,"kt":5000},{"anio":"2017","sector":"Residuos","orden":7,"kt":1300},{"anio":"2017","sector":"Transporte","orden":8,"kt":11200},
{"anio":"2018","sector":"Agricultura","orden":1,"kt":2000},{"anio":"2018","sector":"Aguas Residuales","orden":2,"kt":1600},{"anio":"2018","sector":"Consumo Eléctrico","orden":3,"kt":12400},{"anio":"2018","sector":"Ganadería","orden":4,"kt":2900},{"anio":"2018","sector":"Gases Fluorados","orden":5,"kt":1000},{"anio":"2018","sector":"Instalaciones fijas","orden":6,"kt":4800},{"anio":"2018","sector":"Residuos","orden":7,"kt":1300},{"anio":"2018","sector":"Transporte","orden":8,"kt":11900},
{"anio":"2019","sector":"Agricultura","orden":1,"kt":2000},{"anio":"2019","sector":"Aguas Residuales","orden":2,"kt":1900},{"anio":"2019","sector":"Consumo Eléctrico","orden":3,"kt":9400},{"anio":"2019","sector":"Ganadería","orden":4,"kt":2500},{"anio":"2019","sector":"Gases Fluorados","orden":5,"kt":900},{"anio":"2019","sector":"Instalaciones fijas","orden":6,"kt":5600},{"anio":"2019","sector":"Residuos","orden":7,"kt":1400},{"anio":"2019","sector":"Transporte","orden":8,"kt":11800}
]},
"mark":{"type":"bar","stroke":"white","strokeWidth":1,"opacity":0.95},
"encoding":{
"x":{"field":"anio","type":"nominal","scale":{"range":[43.5,613.5],"paddingInner":0.21,"paddingOuter":0.105},"axis":{"orient":"bottom","title":null,"offset":-21.3,"labelAngle":0,"labelFontSize":6.5,"labelColor":"#777","labelPadding":3,"tickBand":"extent","tickSize":4,"tickColor":"#dddddd","domainColor":"#dddddd"}},
"y":{"field":"kt","type":"quantitative","stack":"zero","scale":{"domain":[0,60000],"range":[153.7,36],"nice":false},"axis":{"orient":"left","title":"(t CO2-eq)","offset":-39,"domain":false,"ticks":false,"values":[0,10000,20000,30000,40000,50000,60000],"labelExpr":"format(datum.value,',.0f')+' K'","labelFontSize":6,"labelColor":"#888","labelPadding":0,"grid":true,"gridColor":"#eeeeee","titleFontSize":5.5,"titleColor":"#888","titleFontWeight":"normal","titleX":-27,"titleY":94}},
"order":{"field":"orden"},
"color":{"field":"sector","type":"nominal","scale":{"domain":["Agricultura","Aguas Residuales","Consumo Eléctrico","Ganadería","Gases Fluorados","Instalaciones fijas","Residuos","Transporte"],"range":["#a98bbd","#5a74ad","#8fc2cc","#e2959a","#e3b07f","#e9d77f","#bfe6f5","#c2b8d9"]},"legend":{"orient":"none","legendX":128,"legendY":169,"direction":"horizontal","columns":8,"title":null,"symbolType":"square","symbolSize":20,"labelFontSize":5,"labelOffset":2,"labelColor":"#666","columnPadding":3,"gridAlign":"each","padding":0}}
}}
]}
]}
]}
